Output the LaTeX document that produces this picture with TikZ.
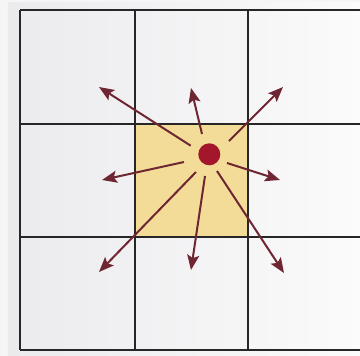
\documentclass[tikz,border=0pt]{standalone}
\usetikzlibrary{arrows.meta}
\definecolor{arrowc}{HTML}{6E2632}
\definecolor{dotc}{HTML}{A3162B}
\definecolor{cellc}{HTML}{F3DC97}
\definecolor{bgl}{HTML}{EBEAED}
\definecolor{bgr}{HTML}{FBFBFB}
\definecolor{edgec}{HTML}{F5F5F6}
\tikzset{
  gridline/.style={line width=1.3pt, black!85},
  ray/.style={line width=2pt, arrowc, -{Stealth[length=15pt,width=12pt,inset=3pt]}},
}
\begin{document}
\begin{tikzpicture}[x=1pt,y=-1pt]
\useasboundingbox (0,0) rectangle (360,356);
% background
\fill[edgec] (0,0) rectangle (360,356);
\shade[left color=bgl, right color=bgr] (8,3) rectangle (360,356);
% yellow cell
\fill[cellc] (135,124) rectangle (248,237);
% grid
\foreach \x in {20,135,248} \draw[gridline] (\x,10) -- (\x,350);
\foreach \y in {10,124,237,350} \draw[gridline] (20,\y) -- (361,\y);
% dot
\node[circle, fill=dotc, minimum size=22pt, inner sep=0pt] (dot) at (209.3,154.3) {};
% ray coordinates
\coordinate (s1) at (190.7,145.7); \coordinate (t1) at (99,87);
\coordinate (s2) at (202,134);     \coordinate (t2) at (191,88);
\coordinate (s3) at (229,141);     \coordinate (t3) at (283,87);
\coordinate (s4) at (184,162);     \coordinate (t4) at (102,180);
\coordinate (s5) at (227,163);     \coordinate (t5) at (280,180);
\coordinate (s6) at (196,172);     \coordinate (t6) at (99,272);
\coordinate (s7) at (205,176);     \coordinate (t7) at (191,270);
\coordinate (s8) at (217,171);     \coordinate (t8) at (284,273);
\foreach \i in {1,...,8} \draw[ray] (s\i) -- (t\i);
\end{tikzpicture}
\end{document}
